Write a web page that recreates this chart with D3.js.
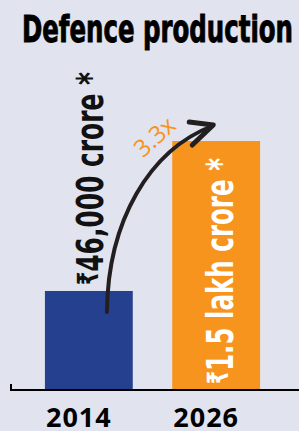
<!DOCTYPE html>
<html>
<head>
<meta charset="utf-8">
<script src="https://cdn.jsdelivr.net/npm/d3@7"></script>
<style>
  html, body { margin: 0; padding: 0; background: #e1e3ef; }
  svg { display: block; }
</style>
</head>
<body>
<figure id="bar" style="margin:0"></figure>
<script>
const title = 'Defence production';
const categories = ['2014', '2026'];
const values = [46000, 150000];           // crore
const currency = ['₹', '₹'];
const amountText = ['46,000', '1.5'];
const unitText = [' crore', ' lakh crore'];
const growthLabel = '3.3x';
const colors = ['#24408e', '#f7941d'];
const labelColors = ['#111111', '#ffffff'];

const width = 299;
const height = 431;
const baseY = 390;
const narrow = '"Liberation Sans Narrow", "DejaVu Sans Condensed", sans-serif';

const svg = d3.select('figure#bar')
  .append('svg')
  .attr('width', width)
  .attr('height', height);

svg.append('rect')
  .attr('width', width)
  .attr('height', height)
  .attr('fill', '#e1e3ef');

// title
svg.append('text')
  .attr('x', 22)
  .attr('y', 42)
  .attr('textLength', 271)
  .attr('lengthAdjust', 'spacingAndGlyphs')
  .style('font-family', narrow)
  .style('font-weight', 700)
  .style('font-size', '38px')
  .attr('fill', '#000')
  .attr('stroke', '#000')
  .attr('stroke-width', 0.9)
  .text(title);

// x band scale
const x = d3.scaleBand()
  .domain(categories)
  .range([8, 297])
  .paddingInner(0.31)
  .paddingOuter(0.29);

// the original bars are not drawn to scale, so the domain starts below zero
const y = d3.scaleLinear()
  .domain([-22650, 150000])
  .range([baseY, 141]);

// bars
svg.selectAll('rect.bar')
  .data(values)
  .enter()
  .append('rect')
  .attr('class', 'bar')
  .attr('x', (d, i) => x(categories[i]))
  .attr('y', d => y(d))
  .attr('width', x.bandwidth())
  .attr('height', d => baseY - y(d))
  .attr('fill', (d, i) => colors[i]);

// baseline axis
svg.append('path')
  .attr('d', `M11,384V${baseY}H${width}`)
  .attr('fill', 'none')
  .attr('stroke', '#000')
  .attr('stroke-width', 2);

// year labels
svg.selectAll('text.year')
  .data(categories)
  .enter()
  .append('text')
  .attr('class', 'year')
  .attr('x', d => x(d) + x.bandwidth() / 2 - 10)
  .attr('y', 427)
  .attr('text-anchor', 'middle')
  .style('font-family', '"Open Sans", sans-serif')
  .style('font-weight', 700)
  .style('font-size', '27px')
  .style('letter-spacing', '1px')
  .attr('fill', '#000')
  .text(d => d);

// rotated value labels
const labelPos = [
  { dx: 58, bottom: d => y(d) - 6, len: 213 },
  { dx: 61, bottom: () => baseY - 6, len: 226 }
];
values.forEach((v, i) => {
  const lx = x(categories[i]) + labelPos[i].dx;
  const ly = labelPos[i].bottom(v);
  const t = svg.append('text')
    .attr('transform', `translate(${lx},${ly}) rotate(-90)`)
    .attr('textLength', labelPos[i].len)
    .attr('lengthAdjust', 'spacingAndGlyphs')
    .style('font-family', narrow)
    .style('font-weight', 700)
    .style('font-size', '38px')
    .attr('fill', labelColors[i]);
  t.append('tspan').style('font-size', '29px').attr('dy', -5).text(currency[i]);
  t.append('tspan').attr('dy', 5).text(amountText[i] + unitText[i]);
  t.append('tspan').text(' *');
});

// growth arrow
const p0 = [x(categories[0]) + 62, y(values[0]) + 21];
const p3 = [x(categories[1]) + 41, y(values[1]) - 16];
const arrow = d3.path();
arrow.moveTo(p0[0], p0[1]);
arrow.bezierCurveTo(p0[0] + 1, p0[1] - 92, p0[0] + 43, p0[1] - 162, p3[0] - 1, p3[1] + 1);
svg.append('path')
  .attr('d', arrow.toString())
  .attr('fill', 'none')
  .attr('stroke', '#231f20')
  .attr('stroke-width', 4)
  .attr('stroke-linecap', 'round');

svg.append('path')
  .attr('d', `M${p3[0] - 24},${p3[1] - 3}L${p3[0]},${p3[1]}L${p3[0] - 21},${p3[1] + 20}`)
  .attr('fill', 'none')
  .attr('stroke', '#231f20')
  .attr('stroke-width', 5)
  .attr('stroke-linecap', 'round')
  .attr('stroke-linejoin', 'round');

svg.append('text')
  .attr('transform', `translate(${p3[0] - 53},${p3[1] + 18}) rotate(-42)`)
  .attr('text-anchor', 'middle')
  .style('font-family', '"Open Sans", sans-serif')
  .style('font-weight', 400)
  .style('font-size', '24px')
  .attr('fill', '#f7941d')
  .text(growthLabel);
</script>
</body>
</html>
